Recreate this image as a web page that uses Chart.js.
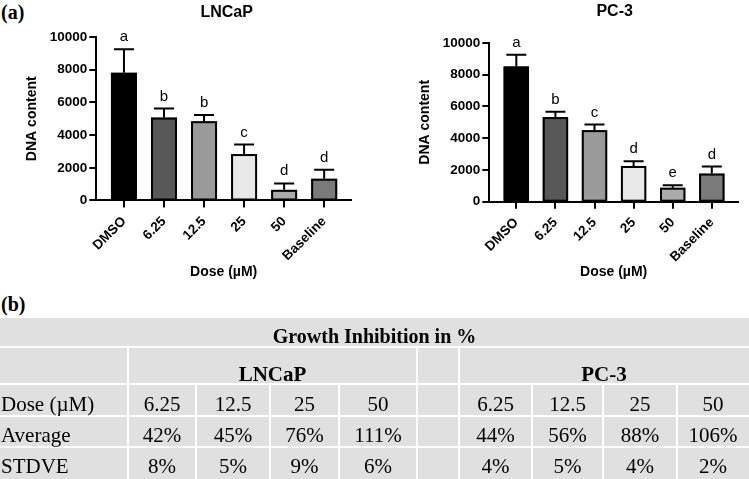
<!DOCTYPE html>
<html>
<head>
<meta charset="utf-8">
<script src="https://cdn.jsdelivr.net/npm/chart.js@4.4.1/dist/chart.umd.min.js"></script>
<style>
  body { margin: 0; background: #fff; width: 749px; height: 479px; overflow: hidden; position: relative; }
  .panel-label { position: absolute; font: bold 20px "Liberation Serif", "Times New Roman", serif; line-height: 1; }
  .chart-box { position: absolute; top: 0; }
  #table { position: absolute; left: 0; top: 0; width: 749px; height: 479px; }
  .cell { position: absolute; background: #e0e0e0; }
  .txt { position: absolute; font-family: "Liberation Serif", "Times New Roman", serif; font-size: 21px; line-height: 1; white-space: nowrap; }
</style>
</head>
<body>
<div class="panel-label" style="left:1px; top:2px;">(a)</div>
<div class="chart-box" style="left:0; width:370px; height:290px;"><canvas id="lncapChart" width="370" height="290"></canvas></div>
<div class="chart-box" style="left:370px; width:379px; height:290px;"><canvas id="pc3Chart" width="379" height="290"></canvas></div>
<div class="panel-label" style="left:1px; top:294px;">(b)</div>
<div id="table"></div>
<script>
// bar chart data
const doseLabels = ['DMSO', '6.25', '12.5', '25', '50', 'Baseline'];
const lncapMeans = [7810, 5070, 4850, 2840, 650, 1330];
const lncapErrors = [1440, 550, 380, 580, 390, 550];
const lncapLetters = ['a', 'b', 'b', 'c', 'd', 'd'];
const pc3Means = [8520, 5330, 4510, 2250, 880, 1770];
const pc3Errors = [740, 340, 350, 300, 150, 440];
const pc3Letters = ['a', 'b', 'c', 'd', 'e', 'd'];
const barColors = ['#000000', '#585858', '#9a9a9a', '#e8e8e8', '#ababab', '#7a7a7a'];

// growth inhibition table
const tableDoses = ['6.25', '12.5', '25', '50'];
const lncapAverage = ['42%', '45%', '76%', '111%'];
const lncapStdve = ['8%', '5%', '9%', '6%'];
const pc3Average = ['44%', '56%', '88%', '106%'];
const pc3Stdve = ['4%', '5%', '4%', '2%'];

Chart.defaults.font.family = 'Arial, "Liberation Sans", sans-serif';
Chart.defaults.color = '#000';

// bar outlines, error bars, significance letters and the title of each chart
const annotPlugin = {
  id: 'annot',
  afterDatasetsDraw(chart, args, opts) {
    const ctx = chart.ctx;
    const xs = chart.scales.x, ys = chart.scales.y;
    const bars = chart.getDatasetMeta(0).data;
    ctx.save();
    ctx.strokeStyle = '#000';
    ctx.lineWidth = 2;
    bars.forEach(b => {
      const p = b.getProps(['x', 'y', 'base', 'width'], true);
      ctx.strokeRect(p.x - p.width / 2 + 1, p.y + 1, p.width - 2, p.base - p.y - 1);
    });
    opts.means.forEach((m, i) => {
      const x = xs.getPixelForValue(i);
      const yBar = ys.getPixelForValue(m);
      const yTop = ys.getPixelForValue(m + opts.errors[i]);
      ctx.beginPath();
      ctx.moveTo(x, yBar);
      ctx.lineTo(x, yTop);
      ctx.moveTo(x - 10, yTop);
      ctx.lineTo(x + 10, yTop);
      ctx.stroke();
      ctx.fillStyle = '#000';
      ctx.font = '15px Arial, "Liberation Sans", sans-serif';
      ctx.textAlign = 'center';
      ctx.textBaseline = 'alphabetic';
      ctx.fillText(opts.letters[i], x, yTop - 8);
    });
    const area = chart.chartArea;
    ctx.font = 'bold 16px Arial, "Liberation Sans", sans-serif';
    ctx.textAlign = 'center';
    ctx.textBaseline = 'middle';
    ctx.fillText(opts.title, (area.left + area.right) / 2 + opts.titleShift, opts.titleY);
    ctx.restore();
  }
};

function makeChart(id, title, means, errors, letters, pad, titleY, titleShift, doseTitlePad) {
  const ctx = document.getElementById(id).getContext('2d');
  return new Chart(ctx, {
    type: 'bar',
    data: {
      datasets: [{
        data: means.map((m, i) => ({ x: i, y: m })),
        backgroundColor: barColors,
        borderWidth: 0,
        barPercentage: 0.65,
        categoryPercentage: 1
      }]
    },
    options: {
      responsive: false,
      animation: false,
      layout: { padding: pad },
      plugins: {
        legend: { display: false },
        tooltip: { enabled: false },
        annot: { means: means, errors: errors, letters: letters, title: title, titleY: titleY, titleShift: titleShift }
      },
      scales: {
        x: {
          type: 'linear',
          offset: false,
          min: -0.69,
          max: 5.67,
          grid: { display: true, offset: false, drawOnChartArea: false, drawTicks: true, tickLength: 7, color: '#000', lineWidth: 2 },
          border: { display: true, color: '#000', width: 2 },
          ticks: {
            stepSize: 1,
            includeBounds: false,
            autoSkip: false,
            minRotation: 45,
            maxRotation: 45,
            padding: 6,
            font: { size: 13.5, weight: 'bold' },
            callback: v => Number.isInteger(v) ? doseLabels[v] : ''
          },
          title: { display: true, text: 'Dose (µM)', font: { size: 14, weight: 'bold' }, padding: { top: doseTitlePad, bottom: 0 } }
        },
        y: {
          min: 0,
          max: 10000,
          grid: { display: true, drawOnChartArea: false, drawTicks: true, tickLength: 7, color: '#000', lineWidth: 2 },
          border: { display: true, color: '#000', width: 2 },
          ticks: {
            stepSize: 2000,
            padding: 2,
            font: { size: 13.5, weight: 'bold' },
            callback: v => String(v)
          },
          title: { display: true, text: 'DNA content', font: { size: 14, weight: 'bold' }, padding: { top: 0, bottom: 7.5 } }
        }
      }
    },
    plugins: [annotPlugin]
  });
}

makeChart('lncapChart', 'LNCaP', lncapMeans, lncapErrors, lncapLetters,
  { top: 37, left: 23.5, right: 19, bottom: 9 }, 13, 3, -6);
makeChart('pc3Chart', 'PC-3', pc3Means, pc3Errors, pc3Letters,
  { top: 43, left: 46.5, right: 11, bottom: 9 }, 12, 1, -7.2);

// table, drawn as grey cells split by thin white lines
const table = document.getElementById('table');
const colEdges = [0, 128, 196, 270, 339, 417, 459, 532, 603, 677, 749];
const rowEdges = [318, 347, 384, 416, 447, 481];
const baselines = [343, 382, 412, 443, 474];

function addCell(x0, x1, row, text, bold, align) {
  const top = rowEdges[row] + (row === 0 ? 0 : 1);
  const bottom = rowEdges[row + 1] - 1;
  const left = x0 + (x0 === 0 ? 0 : 1);
  const right = x1 - (x1 === 749 ? 0 : 1);
  const c = document.createElement('div');
  c.className = 'cell';
  c.style.left = left + 'px';
  c.style.top = top + 'px';
  c.style.width = (right - left) + 'px';
  c.style.height = (bottom - top) + 'px';
  table.appendChild(c);
  if (!text) return;
  const t = document.createElement('div');
  t.className = 'txt';
  t.textContent = text;
  if (bold) t.style.fontWeight = 'bold';
  const size = row === 0 ? 20 : 21;
  t.style.fontSize = size + 'px';
  t.style.top = (baselines[row] - 0.837 * size) + 'px';
  if (align === 'left') {
    t.style.left = (x0 + 1) + 'px';
  } else {
    t.style.left = x0 + 'px';
    t.style.width = (x1 - x0) + 'px';
    t.style.textAlign = 'center';
  }
  table.appendChild(t);
}

addCell(0, 749, 0, 'Growth Inhibition in %', true);
addCell(0, 128, 1, '');
addCell(128, 417, 1, 'LNCaP', true);
addCell(417, 459, 1, '');
addCell(459, 749, 1, 'PC-3', true);

const bodyRows = [
  ['Dose (µM)', tableDoses, tableDoses],
  ['Average', lncapAverage, pc3Average],
  ['STDVE', lncapStdve, pc3Stdve]
];
bodyRows.forEach((r, k) => {
  const row = k + 2;
  addCell(colEdges[0], colEdges[1], row, r[0], false, 'left');
  r[1].forEach((v, j) => addCell(colEdges[1 + j], colEdges[2 + j], row, v, false));
  addCell(colEdges[5], colEdges[6], row, '');
  r[2].forEach((v, j) => addCell(colEdges[6 + j], colEdges[7 + j], row, v, false));
});
</script>
</body>
</html>
